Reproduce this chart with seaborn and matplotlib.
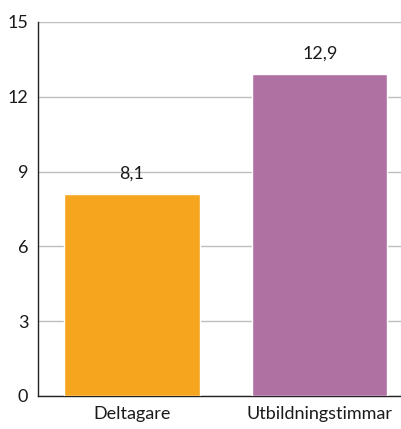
import matplotlib
matplotlib.use("Agg")
import numpy as np
import pandas as pd
import seaborn as sns
import matplotlib.pyplot as plt

categories = ["Deltagare", "Utbildningstimmar"]
values = [8.1, 12.9]
labels = ["8,1", "12,9"]
colors = ["#F5A51E", "#AF70A2"]
yticks = [0, 3, 6, 9, 12, 15]

sns.set_style("white")
plt.rcParams["font.family"] = ["Lato", "DejaVu Sans"]

df = pd.DataFrame({"cat": categories, "val": values})

fig = plt.figure(figsize=(4.01, 4.29), dpi=100)
ax = fig.add_axes([0.0948, 0.077, 0.937, 0.872])

sns.barplot(data=df, x="cat", y="val", hue="cat", palette=colors,
            width=0.72, saturation=1, legend=False, ax=ax, zorder=3)

for i, (v, lab) in enumerate(zip(values, labels)):
    ax.text(i, v + 0.5, lab, ha="center", va="bottom", fontsize=13, color="#1a1a1a")

ax.set_ylim(0, 15)
ax.set_yticks(yticks)
ax.set_yticklabels([str(t) for t in yticks])
ax.yaxis.grid(True, color="#BEBEBE", linewidth=1, zorder=0)
ax.set_axisbelow(True)
ax.set_xlabel("")
ax.set_ylabel("")
ax.tick_params(axis="both", labelsize=13, colors="#1a1a1a", length=0, pad=7)
for s in ["top", "right"]:
    ax.spines[s].set_visible(False)
for s in ["left", "bottom"]:
    ax.spines[s].set_color("#222222")
    ax.spines[s].set_linewidth(1)

fig.savefig("out.png", dpi=100)
